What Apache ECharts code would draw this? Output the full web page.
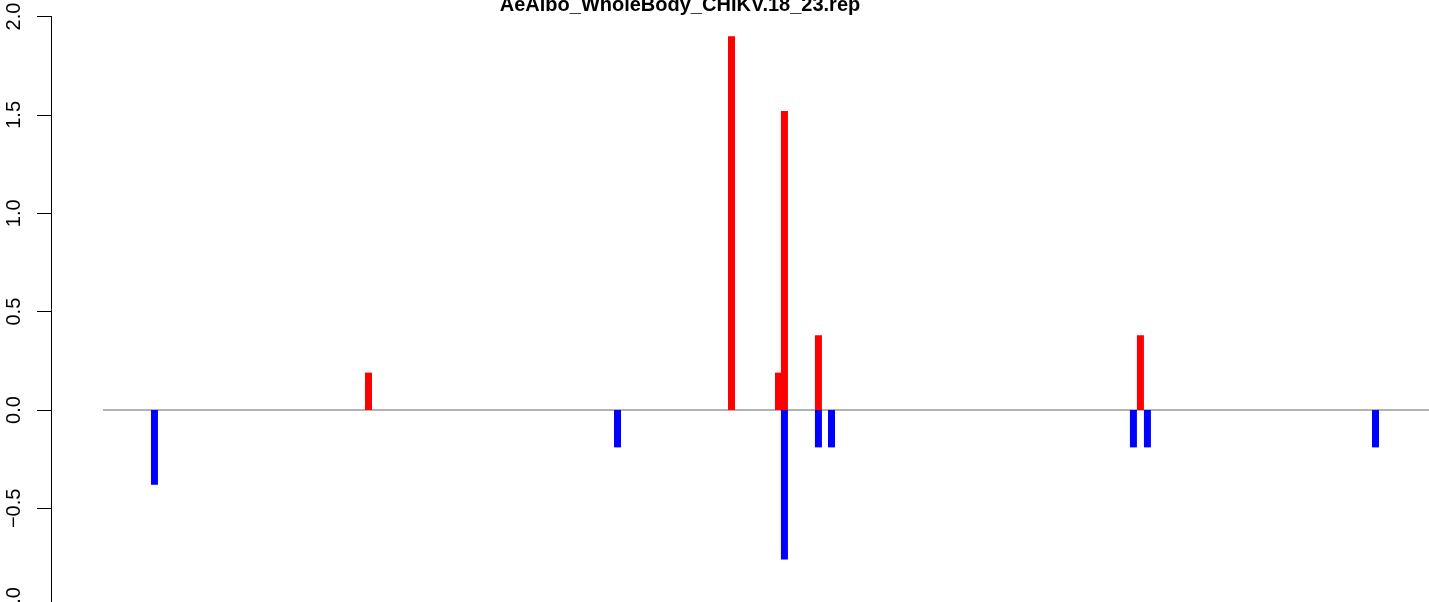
<!DOCTYPE html>
<html>
<head>
<meta charset="utf-8">
<script src="https://cdn.jsdelivr.net/npm/echarts@6/dist/echarts.min.js"></script>
<style>
  html, body { margin: 0; padding: 0; background: #ffffff; }
  #chart { width: 1429px; height: 602px; }
</style>
</head>
<body>
<div id="chart"></div>
<script>
// ---- data ----
const chartTitle = 'AeAlbo_WholeBody_CHIKV.18_23.rep';
const positions   = [901, 2765, 4933, 5926, 6335, 6387, 6683, 6797, 9426, 9487, 9548, 11534];
const plusValues  = [null, 0.19, null, 1.90, 0.19, 1.52, 0.38, null, null, 0.38, null, null];
const minusValues = [-0.38, null, -0.19, null, null, -0.76, -0.19, -0.19, -0.19, null, -0.19, -0.19];
const baselineRange = [453, 12000];
const yTicks = [-1.0, -0.5, 0.0, 0.5, 1.0, 1.5, 2.0];
const xRange = [0, 12000];

// ---- build ----
function pairs(vals) {
  const out = [];
  positions.forEach((p, i) => { if (vals[i] !== null) out.push([p, vals[i]]); });
  return out;
}

const chart = echarts.init(document.getElementById('chart'), null, { renderer: 'canvas' });
const FONT = '"Liberation Sans", Arial, Helvetica, sans-serif';

chart.setOption({
  animation: false,
  backgroundColor: '#ffffff',
  title: {
    text: chartTitle,
    left: 675,
    textAlign: 'center',
    top: -10,
    textStyle: { fontFamily: FONT, fontSize: 20, fontWeight: 'bold', color: '#000000' }
  },
  grid: { left: 51, top: 16.5, height: 590.25, right: 0, containLabel: false, outerBoundsMode: 'none' },
  xAxis: {
    type: 'value',
    min: xRange[0],
    max: xRange[1],
    show: false
  },
  yAxis: {
    type: 'value',
    min: yTicks[0],
    max: yTicks[yTicks.length - 1],
    interval: 0.5,
    splitLine: { show: false },
    axisLine: { show: true, lineStyle: { color: '#000000', width: 1 } },
    axisTick: { show: true, length: 14, lineStyle: { color: '#000000', width: 1 } },
    axisLabel: {
      rotate: 90,
      margin: 27,
      hideOverlap: false,
      fontFamily: FONT,
      fontSize: 20,
      color: '#000000',
      formatter: v => (v < 0 ? '\u2212' : '') + Math.abs(v).toFixed(1)
    }
  },
  series: [
    {
      type: 'line',
      data: [[baselineRange[0], 0], [baselineRange[1], 0]],
      symbol: 'none',
      lineStyle: { color: '#999999', width: 1.5 },
      z: 1,
      silent: true
    },
    {
      type: 'bar',
      data: pairs(plusValues),
      barWidth: 7,
      barGap: '-100%',
      itemStyle: { color: '#FF0000' },
      z: 2
    },
    {
      type: 'bar',
      data: pairs(minusValues),
      barWidth: 7,
      barGap: '-100%',
      itemStyle: { color: '#0000FF' },
      z: 2
    }
  ]
});
</script>
</body>
</html>
